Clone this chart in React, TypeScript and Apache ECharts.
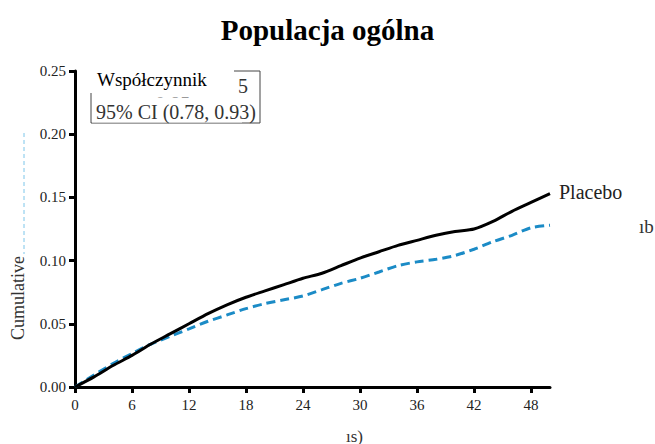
import React, { useEffect, useRef } from "react";
import * as echarts from "echarts";

const months = [0, 2, 4, 6, 8, 10, 12, 14, 16, 18, 20, 22, 24, 26, 28, 30, 32, 34, 36, 38, 40, 42, 44, 46, 48, 50];
const placebo = [0, 0.008, 0.017, 0.025, 0.034, 0.042, 0.05, 0.058, 0.065, 0.071, 0.076, 0.081, 0.086, 0.09, 0.096, 0.102, 0.107, 0.112, 0.116, 0.12, 0.123, 0.125, 0.131, 0.139, 0.146, 0.153];
const treated = [0, 0.0095, 0.0185, 0.0265, 0.034, 0.04, 0.046, 0.052, 0.057, 0.062, 0.066, 0.069, 0.072, 0.077, 0.082, 0.086, 0.091, 0.096, 0.099, 0.101, 0.104, 0.109, 0.115, 0.12, 0.126, 0.128];
const xTicks = [0, 6, 12, 18, 24, 30, 36, 42, 48];
const title = "Populacja ogólna";
const serif = "'Liberation Serif', 'DejaVu Serif', serif";

export default function App() {
  const ref = useRef<HTMLDivElement>(null);
  useEffect(() => {
    document.body.style.margin = "0";
    const chart = echarts.init(ref.current!, null, { renderer: "svg" });
    chart.setOption({
      animation: false,
      backgroundColor: "#fff",
      title: {
        text: title,
        left: "center",
        top: 10,
        textStyle: { fontFamily: serif, fontSize: 29, fontWeight: "bold", color: "#000" },
      },
      grid: { left: 75, top: 71, right: 105, bottom: 57 },
      xAxis: {
        type: "value",
        min: 0,
        max: 50,
        interval: 6,
        splitLine: { show: false },
        axisLine: { lineStyle: { color: "#000", width: 3 } },
        axisTick: { show: true, length: 6, lineStyle: { color: "#000", width: 3 }, customValues: xTicks },
        axisLabel: { showMaxLabel: false, hideOverlap: false, fontFamily: serif, fontSize: 15, color: "#222", margin: 10 },
      },
      yAxis: {
        type: "value",
        min: 0,
        max: 0.25,
        interval: 0.05,
        splitLine: { show: false },
        axisLine: { show: true, lineStyle: { color: "#000", width: 3 } },
        axisTick: { show: true, length: 6, lineStyle: { color: "#000", width: 3 } },
        axisLabel: {
          fontFamily: serif,
          fontSize: 15,
          color: "#222",
          margin: 9,
          formatter: (v: number) => v.toFixed(2),
        },
      },
      series: [
        {
          type: "line",
          data: months.map((m, i) => [m, placebo[i]]),
          showSymbol: false,
          smooth: 0.25,
          lineStyle: { color: "#000", width: 3 },
          endLabel: { show: true, formatter: "Placebo", fontFamily: serif, fontSize: 20, color: "#222", distance: 9, offset: [0, -2] },
          z: 3,
        },
        {
          type: "line",
          data: months.map((m, i) => [m, treated[i]]),
          showSymbol: false,
          smooth: 0.25,
          lineStyle: { color: "#1b8bc6", width: 3, type: [9, 5] },
          z: 2,
        },
      ],
      graphic: [
        { type: "rect", shape: { x: 91, y: 71, width: 169, height: 52 }, style: { fill: "#fff", stroke: "#444", lineWidth: 1 }, z: 10 },
        { type: "text", x: 248, y: 86, style: { text: "5", fontFamily: serif, fontSize: 20, fill: "#333", align: "right", verticalAlign: "middle" }, z: 11 },
        { type: "text", x: 160, y: 104, style: { text: "rz. 0.85", fontFamily: serif, fontSize: 20, fill: "#333", align: "center", verticalAlign: "middle" }, z: 11 },
        { type: "rect", shape: { x: 92, y: 97.5, width: 150, height: 25 }, style: { fill: "#fff" }, z: 12 },
        { type: "rect", shape: { x: 88, y: 64, width: 146, height: 29 }, style: { fill: "#fff" }, z: 12 },
        { type: "text", x: 97, y: 79, style: { text: "Współczynnik", fontFamily: serif, fontSize: 19, fill: "#000", align: "left", verticalAlign: "middle" }, z: 13 },
        { type: "text", x: 176, y: 112, style: { text: "95% CI (0.78, 0.93)", fontFamily: serif, fontSize: 20, fill: "#333", align: "center", verticalAlign: "middle" }, z: 13 },
        { type: "line", shape: { x1: 24, y1: 133, x2: 24, y2: 254 }, style: { stroke: "#7cc6ea", lineWidth: 1, lineDash: [4, 3] }, z: 5 },
        { type: "text", x: 18, y: 298, rotation: Math.PI / 2, style: { text: "Cumulative", fontFamily: serif, fontSize: 18, fill: "#333", align: "center", verticalAlign: "middle" }, z: 5 },
        { type: "text", x: 639, y: 226, style: { text: "ıb", fontFamily: serif, fontSize: 19, fill: "#333", align: "left", verticalAlign: "middle" }, z: 5 },
        { type: "text", x: 346, y: 436, style: { text: "ıs)", fontFamily: serif, fontSize: 17, fill: "#333", align: "left", verticalAlign: "middle" }, z: 5 },
      ],
    });
    return () => chart.dispose();
  }, []);
  return <div ref={ref} style={{ width: 655, height: 444 }} />;
}
